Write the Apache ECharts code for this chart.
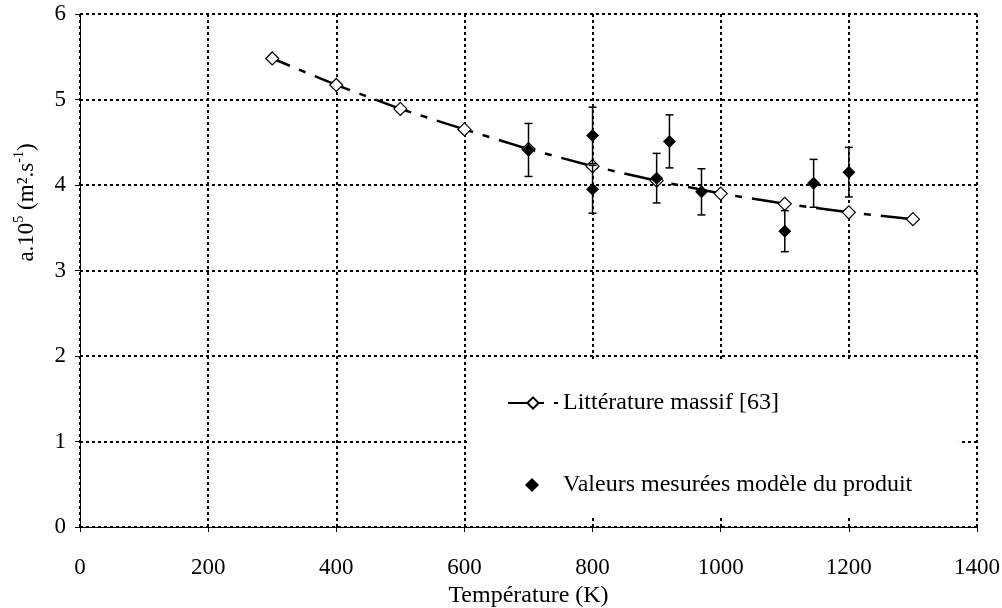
<!DOCTYPE html>
<html><head><meta charset="utf-8">
<script src="https://cdn.jsdelivr.net/npm/echarts@6/dist/echarts.min.js"></script>
<style>html,body{margin:0;padding:0;background:#fff}#c{width:1002px;height:608px}</style>
</head><body><div id="c"></div>
<script>
const litName = 'Littérature massif [63]';
const measName = 'Valeurs mesurées modèle du produit';
const litTemps = [300, 400, 500, 600, 700, 800, 900, 1000, 1100, 1200, 1300];
const litValues = [5.48, 5.17, 4.89, 4.65, 4.42, 4.22, 4.05, 3.90, 3.78, 3.68, 3.60];
const measTemps = [700, 800, 800, 900, 920, 970, 1100, 1145, 1200];
const measValues = [4.41, 4.58, 3.95, 4.08, 4.51, 3.92, 3.46, 4.02, 4.15];
const measErrors = [0.31, 0.33, 0.28, 0.29, 0.31, 0.27, 0.24, 0.28, 0.29];
const xMin = 0, xMax = 1400, xStep = 200;
const yMin = 0, yMax = 6, yStep = 1;

const FONT = 'Liberation Serif';
const dotted = { color: '#000', width: 2, type: [3, 3] };

const litData = litTemps.map((t, i) => [t, litValues[i]]);
const measData = measTemps.map((t, i) => [t, measValues[i]]);
const errData = measTemps.map((t, i) => [t, measValues[i] - measErrors[i], measValues[i] + measErrors[i]]);

const chart = echarts.init(document.getElementById('c'));
chart.setOption({
  animation: false,
  backgroundColor: '#fff',
  grid: { left: 80, right: 25, top: 14, bottom: 81, containLabel: false, outerBoundsMode: 'none' },
  xAxis: {
    type: 'value', min: xMin, max: xMax, interval: xStep,
    name: 'Température (K)', nameLocation: 'middle', nameGap: 46,
    nameTextStyle: { fontFamily: FONT, fontSize: 24, color: '#000' },
    axisLine: { lineStyle: { color: '#000', width: 1 } },
    axisTick: { show: true, length: 5, lineStyle: { color: '#000' } },
    axisLabel: { fontFamily: FONT, fontSize: 23, color: '#000', margin: 29, formatter: v => String(v) },
    splitLine: { show: true, lineStyle: dotted }
  },
  yAxis: {
    type: 'value', min: yMin, max: yMax, interval: yStep,
    name: '{n|a.10}{s|5}{n| (m².s}{s|-1}{n|)}', nameLocation: 'middle', nameGap: 42,
    nameTextStyle: {
      fontFamily: FONT, fontSize: 23, color: '#000', padding: [0, 0, 0, 136],
      rich: {
        n: { fontFamily: FONT, fontSize: 23, color: '#000', lineHeight: 26, verticalAlign: 'bottom' },
        s: { fontFamily: FONT, fontSize: 14, color: '#000', lineHeight: 26, verticalAlign: 'top' }
      }
    },
    axisLine: { show: true, lineStyle: { color: '#000', width: 1 } },
    axisTick: { show: true, length: 5, lineStyle: { color: '#000' } },
    axisLabel: { fontFamily: FONT, fontSize: 23, color: '#000', margin: 14, formatter: v => String(v) },
    splitLine: { show: true, lineStyle: dotted }
  },
  legend: [
    {
      data: [litName], orient: 'vertical', left: 467, top: 360,
      padding: [31, 180, 100, 40], backgroundColor: '#fff',
      itemWidth: 50, itemHeight: 14,
      textStyle: { fontFamily: FONT, fontSize: 24, color: '#000' }
    },
    {
      data: [measName], orient: 'vertical', left: 525, top: 473, padding: 0,
      itemWidth: 14, itemHeight: 14,
      textStyle: { fontFamily: FONT, fontSize: 24, color: '#000', padding: [0, 0, 0, 19] }
    }
  ],
  series: [
    {
      name: litName, type: 'line', data: litData, z: 3,
      symbol: 'diamond', symbolSize: 13,
      lineStyle: { color: '#000', width: 2.5, type: [38, 10, 7, 10], dashOffset: 19, opacity: 1 },
      itemStyle: { color: '#fff', borderColor: '#000', borderWidth: 1.2, opacity: 1 }
    },
    {
      type: 'custom', z: 4, data: errData,
      encode: { x: 0, y: [1, 2] },
      renderItem: function (params, api) {
        const x = api.value(0);
        const top = api.coord([x, api.value(2)]);
        const bot = api.coord([x, api.value(1)]);
        const w = 4;
        const st = { stroke: '#000', lineWidth: 1.5, opacity: 1 };
        return {
          type: 'group', children: [
            { type: 'line', shape: { x1: top[0], y1: top[1], x2: bot[0], y2: bot[1] }, style: st },
            { type: 'line', shape: { x1: top[0] - w, y1: top[1], x2: top[0] + w, y2: top[1] }, style: st },
            { type: 'line', shape: { x1: bot[0] - w, y1: bot[1], x2: bot[0] + w, y2: bot[1] }, style: st }
          ]
        };
      }
    },
    {
      name: measName, type: 'scatter', data: measData, z: 5,
      symbol: 'diamond', symbolSize: 13,
      itemStyle: { color: '#000', opacity: 1 }
    }
  ]
});
</script></body></html>
